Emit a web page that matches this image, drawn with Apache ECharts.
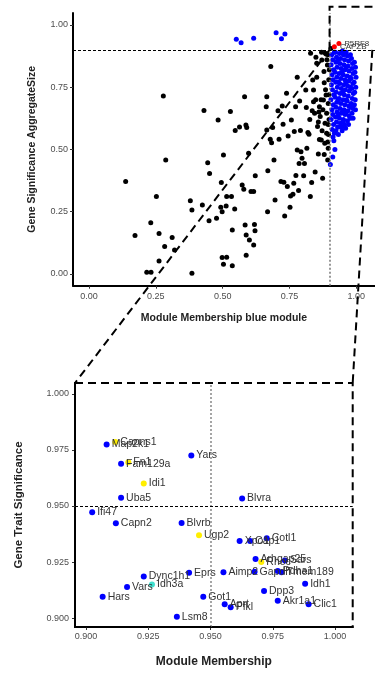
<!DOCTYPE html>
<html><head><meta charset="utf-8">
<script src="https://cdn.jsdelivr.net/npm/echarts@6/dist/echarts.min.js"></script>
<style>html,body{margin:0;padding:0;background:#fff}#c{width:375px;height:674px}</style>
</head><body><div id="c"></div>
<script>
// ---- Top panel: Module Membership (blue module) vs Gene Significance AggregateSize ----
const topTicks = [0, 0.25, 0.5, 0.75, 1.0];
const blackPts = [
[0.137,0.371],[0.172,0.155],[0.216,0.007],[0.232,0.007],[0.231,0.206],[0.252,0.311],[0.262,0.163],[0.262,0.052],
[0.278,0.715],[0.283,0.110],[0.287,0.458],[0.311,0.147],[0.320,0.096],[0.379,0.294],[0.385,0.257],[0.385,0.003],
[0.424,0.277],[0.430,0.656],[0.444,0.447],[0.451,0.404],[0.449,0.214],[0.477,0.224],[0.483,0.618],[0.495,0.367],
[0.493,0.268],[0.498,0.250],[0.503,0.478],[0.498,0.066],[0.515,0.067],[0.503,0.039],[0.515,0.311],[0.513,0.273],
[0.529,0.652],[0.533,0.311],[0.536,0.177],[0.536,0.033],[0.545,0.261],[0.547,0.576],[0.563,0.590],[0.573,0.357],
[0.579,0.340],[0.582,0.712],[0.584,0.197],[0.588,0.157],[0.588,0.075],[0.597,0.485],[0.600,0.137],[0.606,0.331],
[0.616,0.331],[0.616,0.116],[0.619,0.199],[0.621,0.174],[0.587,0.598],[0.590,0.588],[0.622,0.394],[0.665,0.712],
[0.663,0.672],[0.665,0.578],[0.669,0.415],[0.668,0.250],[0.680,0.833],[0.678,0.541],[0.683,0.527],[0.687,0.588],
[0.692,0.458],[0.696,0.297],[0.707,0.655],[0.711,0.541],[0.718,0.371],[0.723,0.675],[0.726,0.601],[0.729,0.368],
[0.732,0.233],[0.739,0.726],[0.742,0.351],[0.745,0.554],[0.752,0.268],[0.754,0.313],[0.757,0.618],[0.763,0.320],
[0.766,0.364],[0.768,0.572],[0.773,0.672],[0.774,0.395],[0.779,0.790],[0.779,0.498],[0.784,0.335],[0.786,0.444],
[0.788,0.695],[0.791,0.576],[0.793,0.491],[0.797,0.465],[0.803,0.394],[0.806,0.444],[0.811,0.739],[0.813,0.669],
[0.815,0.505],[0.819,0.568],[0.823,0.561],[0.828,0.311],[0.829,0.886],[0.833,0.367],[0.837,0.779],[0.840,0.739],
[0.840,0.692],[0.844,0.645],[0.846,0.410],[0.849,0.870],[0.852,0.846],[0.855,0.592],[0.858,0.482],[0.862,0.672],
[0.865,0.632],[0.869,0.538],[0.871,0.859],[0.874,0.384],[0.877,0.699],[0.879,0.813],[0.880,0.768],[0.882,0.525],
[0.883,0.605],[0.884,0.886],[0.887,0.719],[0.889,0.645],[0.889,0.565],[0.892,0.839],[0.893,0.458],[0.895,0.685],
[0.852,0.790],[0.895,0.600],[0.898,0.620],[0.893,0.530],[0.896,0.560],[0.898,0.720],[0.897,0.780],[0.899,0.820],
[0.894,0.880],[0.870,0.890],[0.890,0.860],[0.860,0.650],[0.875,0.660],[0.868,0.700],[0.885,0.740],[0.858,0.610],
[0.872,0.575],[0.848,0.700],[0.835,0.655],[0.826,0.620],[0.895,0.505],[0.880,0.480],[0.862,0.540],[0.905,0.905]
];
const bluePts = [
[0.551,0.943],[0.569,0.929],[0.616,0.947],[0.700,0.969],[0.720,0.945],[0.733,0.964],
[0.908,0.88],[0.912,0.86],[0.906,0.84],[0.915,0.82],[0.909,0.80],[0.913,0.78],[0.907,0.76],[0.911,0.74],[0.916,0.72],
[0.905,0.70],[0.914,0.68],[0.909,0.66],[0.912,0.64],[0.906,0.62],[0.915,0.60],[0.910,0.58],[0.913,0.55],[0.916,0.535],
[0.920,0.50],[0.912,0.47],[0.903,0.44],
[0.922,0.89],[0.926,0.87],[0.924,0.85],[0.928,0.83],[0.921,0.81],[0.927,0.79],[0.923,0.77],[0.929,0.75],[0.925,0.73],
[0.921,0.71],[0.927,0.69],[0.924,0.67],[0.928,0.65],[0.922,0.63],[0.926,0.61],[0.930,0.59],[0.924,0.575],[0.933,0.56],
[0.937,0.885],[0.941,0.865],[0.939,0.845],[0.943,0.825],[0.936,0.805],[0.942,0.785],[0.938,0.765],[0.944,0.745],
[0.940,0.725],[0.936,0.705],[0.942,0.685],[0.939,0.665],[0.943,0.645],[0.937,0.625],[0.941,0.605],[0.945,0.59],[0.947,0.575],
[0.952,0.88],[0.956,0.86],[0.954,0.84],[0.958,0.82],[0.951,0.80],[0.957,0.78],[0.953,0.76],[0.959,0.74],[0.955,0.72],
[0.951,0.70],[0.957,0.68],[0.954,0.66],[0.958,0.64],[0.952,0.62],[0.956,0.60],[0.960,0.585],
[0.967,0.875],[0.971,0.855],[0.969,0.835],[0.973,0.815],[0.966,0.795],[0.972,0.775],[0.968,0.755],[0.974,0.735],
[0.970,0.715],[0.966,0.695],[0.972,0.675],[0.969,0.655],[0.973,0.635],[0.967,0.615],[0.971,0.60],
[0.982,0.865],[0.986,0.845],[0.984,0.825],[0.988,0.805],[0.981,0.785],[0.987,0.765],[0.983,0.745],[0.989,0.725],
[0.985,0.705],[0.981,0.685],[0.987,0.665],[0.984,0.645],[0.988,0.625],
[0.993,0.85],[0.997,0.83],[0.995,0.81],[0.999,0.79],[0.992,0.77],[0.998,0.75],[0.994,0.73],[0.996,0.70],[0.993,0.68],[0.997,0.66],
[0.918,0.89],[0.948,0.895],[0.962,0.89],[0.978,0.88],[0.931,0.86],[0.962,0.83],[0.947,0.81],[0.977,0.79],[0.933,0.77],
[0.962,0.77],[0.978,0.75],[0.949,0.73],[0.933,0.70],[0.963,0.70],[0.979,0.67],[0.948,0.65],[0.932,0.635],[0.962,0.65],
[0.978,0.625],[0.950,0.61],[0.935,0.59],[0.918,0.565]
];
const redNames = ['P5RF8', 'CAPZB'];
const redPts = [[0.935,0.926],[0.918,0.912]];

// ---- Bottom panel: hub genes ----
const hubNames = ['Map2k1','Capns1','Yars','Fam129a','Fn1','Idi1','Uba5','Blvra','Ifi47','Capn2','Blvrb','Ugp2',
  'Xpo1','Cap1','Cotl1','Arhgap25','Rhoc','Sars','Aimp2','Gapdh','Pdha1','Tmem189','Idh1','Dpp3','Akr1a1','Clic1',
  'Dync1h1','Idh3a','Vars','Hars','Eprs','Got1','Aprt','Pfkl','Lsm8'];
const hubMM = [0.9083,0.9118,0.9423,0.9141,0.9170,0.9232,0.9141,0.9627,0.9025,0.9120,0.9384,0.9454,
  0.9617,0.9659,0.9726,0.9681,0.9704,0.9799,0.9552,0.9677,0.9770,0.9785,0.9880,0.9715,0.9770,0.9894,
  0.9232,0.9265,0.9165,0.9067,0.9414,0.9471,0.9557,0.9581,0.9365];
const hubGS = [0.9775,0.9786,0.9725,0.9689,0.9695,0.9600,0.9537,0.9534,0.9472,0.9423,0.9424,0.9370,
  0.9344,0.9344,0.9356,0.9263,0.9250,0.9257,0.9204,0.9207,0.9210,0.9204,0.9153,0.9121,0.9077,0.9061,
  0.9185,0.9150,0.9138,0.9095,0.9202,0.9095,0.9062,0.9048,0.9006];
const hubGroup = ['blue','yellow','blue','blue','yellow','yellow','blue','blue','blue','blue','blue','yellow',
  'blue','blue','blue','blue','yellow','blue','blue','blue','blue','blue','blue','blue','blue','blue',
  'blue','turquoise','blue','blue','blue','blue','blue','blue','blue'];
const bottomTicks = [0.900, 0.925, 0.950, 0.975, 1.000];

const FONT = '"Liberation Sans", Arial, sans-serif';
const groupColor = {blue:'#0000FF', yellow:'#FFEE00', turquoise:'#40E0D0'};

const chart = echarts.init(document.getElementById('c'), null, {renderer:'canvas'});

function axisCommon(ticks, digits, margin){
  return {
    type:'value', splitLine:{show:false},
    axisLine:{show:true, onZero:false, lineStyle:{color:'#000', width:2}},
    axisTick:{show:true, customValues:ticks, length:3, lineStyle:{color:'#333'}},
    axisLabel:{customValues:ticks, formatter:v=>v.toFixed(digits), color:'#4d4d4d', fontSize:9, fontFamily:FONT, margin:margin}
  };
}

const hubData = hubNames.map((n,i)=>({value:[hubMM[i],hubGS[i]], name:n, itemStyle:{color:groupColor[hubGroup[i]], opacity:1}}));

chart.setOption({
  animation:false,
  grid:[
    {left:73, top:13, width:307, height:272.7},
    {left:75, top:383, width:277.7, height:244}
  ],
  xAxis:[
    Object.assign(axisCommon(topTicks,2,6), {gridIndex:0, min:-0.06, max:1.07,
      name:'Module Membership blue module', nameLocation:'middle', nameGap:27,
      nameTextStyle:{fontSize:10.5, fontWeight:'bold', color:'#222', fontFamily:FONT}}),
    Object.assign(axisCommon(bottomTicks,3,5), {gridIndex:1, min:0.8956, max:1.0071,
      name:'Module Membership', nameLocation:'middle', nameGap:29,
      nameTextStyle:{fontSize:12, fontWeight:'bold', color:'#222', fontFamily:FONT}})
  ],
  yAxis:[
    Object.assign(axisCommon(topTicks,2,5), {gridIndex:0, min:-0.047, max:1.048,
      name:'Gene Significance AggregateSize', nameLocation:'middle', nameGap:35,
      nameTextStyle:{fontSize:10.5, fontWeight:'bold', color:'#222', fontFamily:FONT}}),
    Object.assign(axisCommon(bottomTicks,3,6), {gridIndex:1, min:0.896, max:1.0049,
      name:'Gene Trait Significance', nameLocation:'middle', nameGap:50,
      nameTextStyle:{fontSize:11.5, fontWeight:'bold', color:'#222', fontFamily:FONT}})
  ],
  series:[
    {type:'scatter', xAxisIndex:0, yAxisIndex:0, data:blackPts, symbolSize:5,
     itemStyle:{color:'#000', opacity:1},
     markLine:{silent:true, symbol:'none', label:{show:false},
       data:[
         {xAxis:0.9, lineStyle:{color:'#777', type:[2,2], width:1.5}},
         {yAxis:0.9, lineStyle:{color:'#000', type:[3,2], width:1}}
       ]}},
    {type:'scatter', xAxisIndex:0, yAxisIndex:0, data:bluePts, symbolSize:5, itemStyle:{color:'#0000FF', opacity:1}},
    {type:'scatter', xAxisIndex:0, yAxisIndex:0, data:redPts.map((p,i)=>({value:p, name:redNames[i]})), symbolSize:5,
     itemStyle:{color:'#FF0000', opacity:1},
     label:{show:true, position:'right', distance:3, formatter:'{b}', fontSize:8, color:'#333', fontFamily:FONT}},
    {type:'scatter', xAxisIndex:1, yAxisIndex:1, data:hubData, symbolSize:6,
     label:{show:true, position:'right', distance:2, offset:[0,2], formatter:'{b}', fontSize:10.5, color:'#333', fontFamily:FONT},
     labelLayout:{hideOverlap:false},
     markLine:{silent:true, symbol:'none', label:{show:false},
       data:[
         {xAxis:0.95, lineStyle:{color:'#888', type:[2,2], width:1.5}},
         {yAxis:0.95, lineStyle:{color:'#000', type:[3,2], width:1}}
       ]}}
  ]
});

// zoom annotation: dashed rectangle in top panel and connectors to the bottom panel
const rectX0 = 0.9, rectY0 = 0.9, rectY1 = 1.073, rectX1 = 1.2, connX1 = 1.06;
const pA = chart.convertToPixel({gridIndex:0}, [rectX0, rectY0]);
const pB = chart.convertToPixel({gridIndex:0}, [rectX0, rectY1]);
const pC = chart.convertToPixel({gridIndex:0}, [rectX1, rectY1]);
const pD = chart.convertToPixel({gridIndex:0}, [connX1, rectY0]);
const q0 = chart.convertToPixel({gridIndex:1}, [0.8956, 1.0049]);
const q1 = chart.convertToPixel({gridIndex:1}, [1.0071, 0.896]);
const dash = {stroke:'#000', lineWidth:2, lineDash:[8,5], fill:null};
chart.setOption({
  graphic:[
    {type:'polyline', shape:{points:[pA,pB,pC]}, style:dash, z:10},
    {type:'line', shape:{x1:pA[0], y1:pA[1], x2:q0[0], y2:q0[1]}, style:dash, z:10},
    {type:'line', shape:{x1:pD[0], y1:pD[1], x2:q1[0], y2:q0[1]}, style:dash, z:10},
    {type:'rect', shape:{x:q0[0], y:q0[1], width:q1[0]-q0[0], height:q1[1]-q0[1]}, style:dash, z:10}
  ]
});
</script>
</body></html>
